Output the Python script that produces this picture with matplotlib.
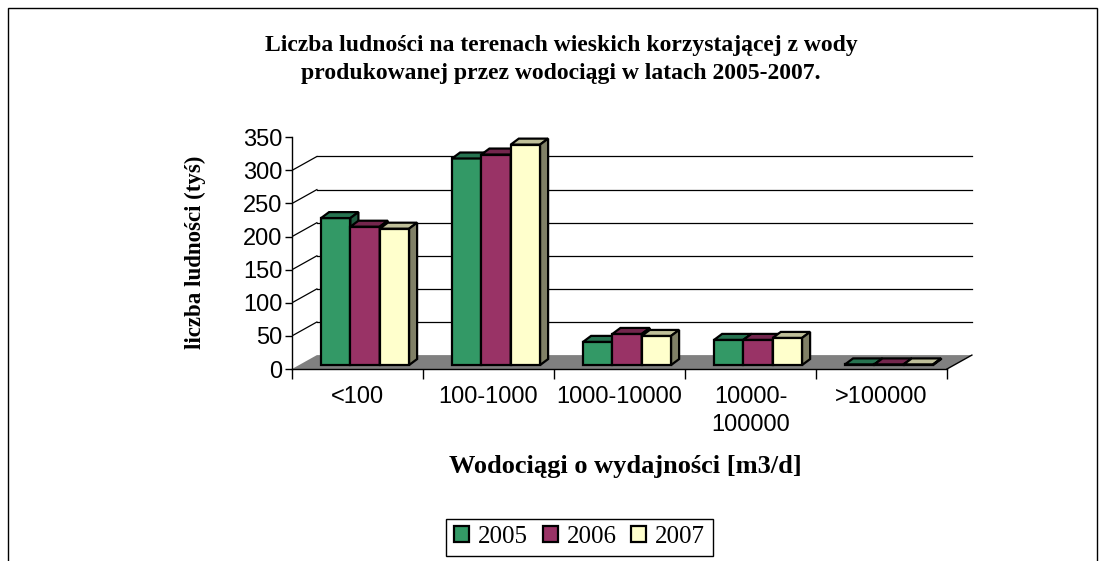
import matplotlib
matplotlib.use("Agg")
import matplotlib.pyplot as plt
from matplotlib.patches import Polygon, Rectangle

# ---- data ----
categories = ["<100", "100-1000", "1000-10000", "10000-\n100000", ">100000"]
years = ["2005", "2006", "2007"]
v2005 = [222, 312, 35, 38, 1]
v2006 = [209, 318, 47, 38, 1]
v2007 = [206, 333, 44, 41, 1]
series = [v2005, v2006, v2007]
yticks = [0, 50, 100, 150, 200, 250, 300, 350]

front_cols = ["#339966", "#993366", "#FFFFCC"]
top_cols = ["#267350", "#73264d", "#BFBF99"]
side_cols = ["#1f5c40", "#5c1f3d", "#808066"]

W, H = 1105, 561
fig = plt.figure(figsize=(W / 100, H / 100), dpi=100)

# axes mapped so that x: 292px + 131px per category, y: 369px at 0, 0.662 px/unit
x0px, catpx = 292, 131
y0px, kpx = 369, 0.662
xlim = (0, 5.35)
ylim = (-10, 370)
left = x0px / W
width = (xlim[1] - xlim[0]) * catpx / W
bot_px = y0px - ylim[0] * kpx
top_px = y0px - ylim[1] * kpx
ax = fig.add_axes([left, (H - bot_px) / H, width, (bot_px - top_px) / H])
ax.set_xlim(*xlim)
ax.set_ylim(*ylim)
ax.set_facecolor("none")

# 3D geometry (data units)
wall_dx, wall_dy = 0.19, 21.0   # back wall offset
bar_dx, bar_dy = 0.061, 9.0      # bar depth
base = 6.0                       # bar front base (floor depth)
bw = 0.224
b0 = 0.222
ncat = len(categories)

# floor
ax.add_patch(Polygon([(0, 0), (ncat, 0), (ncat + wall_dx, wall_dy), (wall_dx, wall_dy)],
                     closed=True, facecolor="#808080", edgecolor="none", zorder=1))
ax.plot([ncat, ncat + wall_dx], [0, wall_dy], color="black", lw=1.0, zorder=1.5)

# gridlines on back wall + diagonals on side wall
for t in yticks[1:-1]:
    ax.plot([wall_dx, ncat + wall_dx], [t + wall_dy, t + wall_dy], color="black", lw=0.9, zorder=0.5)
    ax.plot([0, wall_dx], [t, t + wall_dy], color="black", lw=0.9, zorder=0.5)

# bars
for i in range(ncat):
    for j, vals in enumerate(series):
        v = vals[i]
        x = i + b0 + j * bw
        ax.bar(x, v, width=bw, bottom=base, align="edge", color=front_cols[j],
               edgecolor="black", linewidth=1.6, zorder=3 + i * 3 + j,
               label=years[j] if i == 0 else None)
        topv = base + v
        ax.add_patch(Polygon([(x, topv), (x + bw, topv), (x + bw + bar_dx, topv + bar_dy),
                              (x + bar_dx, topv + bar_dy)], closed=True,
                             facecolor=top_cols[j], edgecolor="black", lw=1.6,
                             zorder=3 + i * 3 + j))
        ax.add_patch(Polygon([(x + bw, base), (x + bw, topv), (x + bw + bar_dx, topv + bar_dy),
                              (x + bw + bar_dx, base + bar_dy)], closed=True,
                             facecolor=side_cols[j], edgecolor="black", lw=1.6,
                             zorder=3 + i * 3 + j))

# axes styling
for s in ["top", "right"]:
    ax.spines[s].set_visible(False)
ax.spines["left"].set_position(("data", 0))
ax.spines["left"].set_bounds(0, 350)
ax.spines["bottom"].set_position(("data", 0))
ax.spines["bottom"].set_bounds(0, ncat)
for s in ["left", "bottom"]:
    ax.spines[s].set_linewidth(1.0)
    ax.spines[s].set_zorder(50)

ax.set_yticks(yticks)
ax.set_yticklabels([str(t) for t in yticks], fontsize=17, family="Liberation Sans")
ax.tick_params(axis="y", direction="out", length=5, width=1, pad=2)
ax.set_xticks(range(ncat + 1))
ax.set_xticklabels([])
ax.tick_params(axis="x", which="major", direction="out", length=7, width=1)
ax.set_xticks([i + 0.5 for i in range(ncat)], minor=True)
ax.set_xticklabels(categories, minor=True, fontsize=17, family="Liberation Sans",
                   linespacing=1.35)
ax.tick_params(axis="x", which="minor", length=0, pad=12)

# texts
fig.text(561 / W, 1 - 45 / H, "Liczba ludności na terenach wieskich korzystającej z wody",
         ha="center", va="center", fontsize=17, fontweight="bold", family="Liberation Serif")
fig.text(561 / W, 1 - 73 / H, "produkowanej przez wodociągi w latach 2005-2007.",
         ha="center", va="center", fontsize=17, fontweight="bold", family="Liberation Serif")
fig.text(195 / W, 1 - 252 / H, "liczba ludności (tyś)", rotation=90, ha="center", va="center",
         fontsize=16.5, fontweight="bold", family="Liberation Serif")
fig.text(625 / W, 1 - 466 / H, "Wodociągi o wydajności [m3/d]", ha="center", va="center",
         fontsize=19, fontweight="bold", family="Liberation Serif")

# legend
h, l = ax.get_legend_handles_labels()
leg = fig.legend(h, l, loc="center", bbox_to_anchor=(579.5 / W, 1 - 537 / H), ncol=3,
                 frameon=True, fancybox=False, edgecolor="black", framealpha=1,
                 prop={"family": "Liberation Serif", "size": 18},
                 handlelength=0.6, handleheight=0.6, handletextpad=0.35,
                 columnspacing=0.6, borderpad=0.3, borderaxespad=0)
leg.get_frame().set_linewidth(1.0)

# outer border
fig.patches.append(Rectangle((8 / W, -0.05), (1097 - 8) / W, (H - 8) / H + 0.05,
                             transform=fig.transFigure, fill=False, edgecolor="black",
                             lw=1.0, figure=fig))

fig.savefig("out.png", dpi=100)
